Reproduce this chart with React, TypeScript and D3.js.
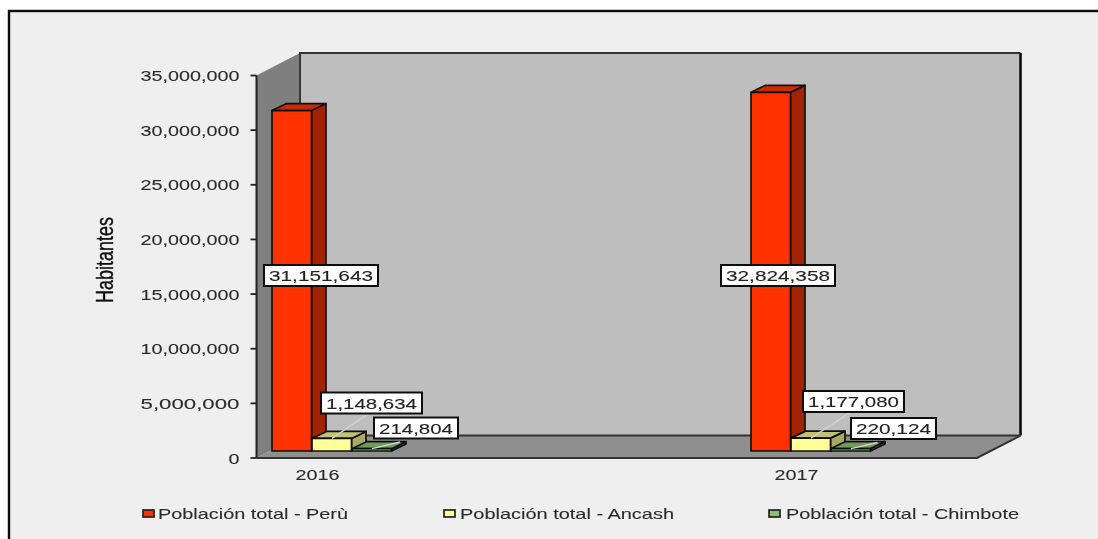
import React from "react";
import * as d3 from "d3";

const years = ["2016", "2017"];
const seriesNames = ["Población total - Perù", "Población total - Ancash", "Población total - Chimbote"];
const peru = [31151643, 32824358];
const ancash = [1148634, 1177080];
const chimbote = [214804, 220124];
const yTicks = [0, 5000000, 10000000, 15000000, 20000000, 25000000, 30000000, 35000000];
const labelWidths = [[114, 101, 84], [114, 101, 85]];

const W = 1098, H = 539;
const FONT = "'Liberation Sans', Arial, sans-serif";
const y = d3.scaleLinear().domain([0, 35000000]).range([458, 75.5]);
const x0 = d3.scalePoint<string>().domain(years).range([272, 751]);
const xS = d3.scaleBand<number>().domain([0, 1, 2]).range([0, 120]).padding(0);
const fmt = d3.format(",");
const left = 256.5, right = 977, wallDx = 43.5, wallDy = -22.5;
const barDx = 14.5, barDy = -7, barLift = 7;

const fills = [
  { front: "#ff3300", top: "#cc2900", side: "#a32200" },
  { front: "#ffff99", top: "#c2c270", side: "#a8a868" },
  { front: "#8fbc6e", top: "#6f9a58", side: "#3f6a32" },
];
const pts = (p: number[][]) => p.map((d) => d.join(",")).join(" ");

const labelPos = [
  [{ cx: 321, cy: 275.5 }, { cx: 371.5, cy: 403 }, { cx: 416, cy: 428 }],
  [{ cx: 778, cy: 275.5 }, { cx: 853.5, cy: 401.5 }, { cx: 893.5, cy: 428.5 }],
];

function Stretched({ x, y, w, size, anchor = "start", children, fill = "#2b2b2b", weight = 0.1 }: any) {
  return (
    <text x={x} y={y} textLength={w} lengthAdjust="spacingAndGlyphs" fontFamily={FONT} fontSize={size}
      textAnchor={anchor} fill={fill} stroke={fill} strokeWidth={weight}>{children}</text>
  );
}

export default function App() {
  const data = [peru, ancash, chimbote];
  return (
    <svg width={W} height={H} style={{ position: "absolute", left: 0, top: 0, display: "block" }}>
      <defs>
        <filter id="soft" filterUnits="userSpaceOnUse" x="0" y="0" width={W} height={H}>
          <feGaussianBlur stdDeviation="0.55" />
        </filter>
      </defs>
      <rect width={W} height={H} fill="#ffffff" />
      <g filter="url(#soft)">
        <rect x={9} y={11} width={W} height={H} fill="#efefef" stroke="#111" strokeWidth={2.4} />
        <polygon points={pts([[left + wallDx, y(35000000) + wallDy], [right + wallDx, y(35000000) + wallDy], [right + wallDx, y(0) + wallDy], [left + wallDx, y(0) + wallDy]])}
          fill="#bebebe" />
        <polyline points={pts([[left + wallDx, y(0) + wallDy], [left + wallDx, y(35000000) + wallDy], [right + wallDx, y(35000000) + wallDy]])}
          fill="none" stroke="#333" strokeWidth={2} />
        <polygon points={pts([[left, y(35000000)], [left + wallDx, y(35000000) + wallDy], [left + wallDx, y(0) + wallDy], [left, y(0)]])}
          fill="#7f7f7f" />
        <line x1={left + wallDx} x2={left + wallDx} y1={y(35000000) + wallDy} y2={y(0) + wallDy} stroke="#333" strokeWidth={1.8} />
        <polygon points={pts([[left, y(0)], [left + wallDx, y(0) + wallDy], [right + wallDx, y(0) + wallDy], [right, y(0)]])}
          fill="#8f8f8f" />
        <line x1={left + wallDx} x2={right + wallDx} y1={y(0) + wallDy} y2={y(0) + wallDy} stroke="#333" strokeWidth={1.8} />
        <line x1={right + wallDx} x2={right + wallDx} y1={y(35000000) + wallDy} y2={y(0) + wallDy} stroke="#111" strokeWidth={2.6} />
        <polyline points={pts([[left, y(0)], [right, y(0)], [right + wallDx, y(0) + wallDy]])} fill="none" stroke="#333" strokeWidth={2} />
        <line x1={left} x2={left} y1={y(35000000)} y2={y(0)} stroke="#222" strokeWidth={2} />
        {yTicks.map((t) => (
          <g key={t}>
            <line x1={left - 6} x2={left} y1={y(t)} y2={y(t)} stroke="#222" strokeWidth={1.8} />
            <Stretched x={239.5} y={y(t) + 5.5} w={t === 0 ? 11 : 99} size={15} anchor="end">{fmt(t)}</Stretched>
          </g>
        ))}
        {years.map((yr, i) =>
          data.map((s, k) => {
            const xa = x0(yr)! + xS(k)!;
            const xb = xa + xS.bandwidth() - 0.5;
            const base = y(0) - barLift;
            const top = y(s[i]) - barLift;
            const f = fills[k];
            return (
              <g key={yr + k} stroke="#111" strokeWidth={1.7} strokeLinejoin="round">
                <polygon points={pts([[xb, base], [xb + barDx, base + barDy], [xb + barDx, top + barDy], [xb, top]])} fill={f.side} />
                <polygon points={pts([[xa, top], [xa + barDx, top + barDy], [xb + barDx, top + barDy], [xb, top]])} fill={f.top} />
                <rect x={xa} y={top} width={xb - xa} height={base - top} fill={f.front} />
              </g>
            );
          })
        )}
        {years.map((yr, i) =>
          [1, 2].map((k) => {
            const xa = x0(yr)! + xS(k)! + 20;
            const top = y(data[k][i]) - barLift;
            const p = labelPos[i][k];
            return (
              <line key={yr + k} x1={xa} y1={top} x2={p.cx + (k === 1 ? -2 : -16)} y2={p.cy + (k === 1 ? 10 : 14)}
                stroke="#d2d2d2" strokeWidth={1.4} />
            );
          })
        )}
        {years.map((yr, i) =>
          data.map((s, k) => {
            const p = labelPos[i][k];
            const w = labelWidths[i][k];
            return (
              <g key={yr + "l" + k}>
                <rect x={p.cx - w / 2} y={p.cy - 10.5} width={w} height={21} fill="#fff" stroke="#111" strokeWidth={2} />
                <Stretched x={p.cx} y={p.cy + 5.5} w={w - 10} size={15} anchor="middle" fill="#222">{fmt(s[i])}</Stretched>
              </g>
            );
          })
        )}
        {years.map((yr) => (
          <Stretched key={yr} x={x0(yr)! + 45.5} y={480} w={44} size={15} anchor="middle">{yr}</Stretched>
        ))}
        <g transform="translate(113,260) rotate(-90)">
          <Stretched x={0} y={0} w={86} size={24} anchor="middle" fill="#111" weight={0.4}>Habitantes</Stretched>
        </g>
        {seriesNames.map((n, k) => {
          const sx = [143, 444, 769][k];
          const tx = [158, 460, 786][k];
          const tw = [190, 214, 233][k];
          return (
            <g key={n}>
              <rect x={sx} y={510} width={11} height={7} fill={fills[k].front} stroke="#222" strokeWidth={1.7} />
              <Stretched x={tx} y={519} w={tw} size={15}>{n}</Stretched>
            </g>
          );
        })}
      </g>
    </svg>
  );
}
